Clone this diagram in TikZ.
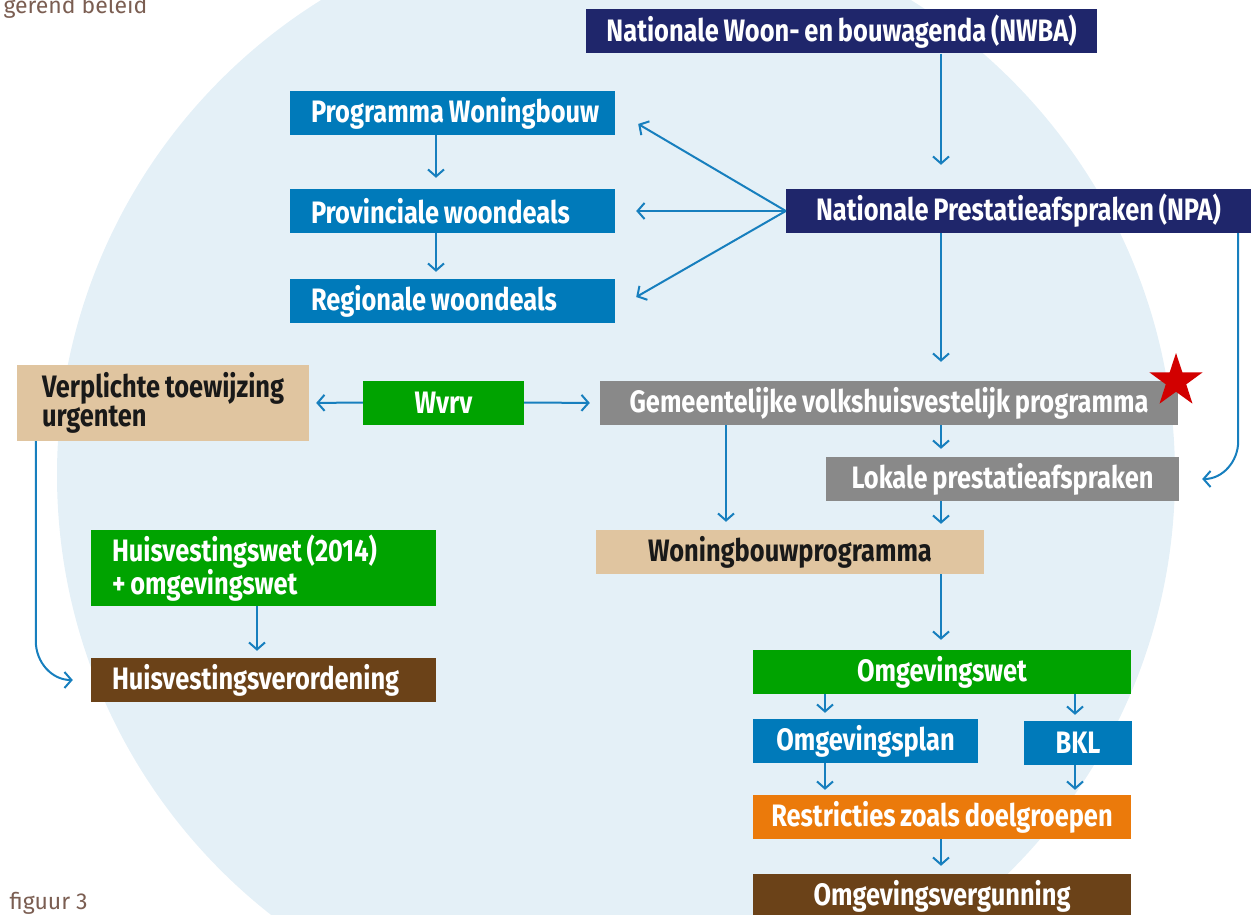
\documentclass[tikz,border=0pt]{standalone}
\usepackage{fontspec}
\usepackage{tikz}
\usetikzlibrary{arrows.meta,shapes.geometric}
\newfontfamily\boxfont[FakeStretch=0.82, WordSpace=0.8]{Fira Sans}
\newfontfamily\capfont{Fira Sans}
\definecolor{navy}{RGB}{31,38,107}
\definecolor{boxblue}{RGB}{0,122,186}
\definecolor{boxgreen}{RGB}{0,163,0}
\definecolor{boxgrey}{RGB}{137,137,137}
\definecolor{boxtan}{RGB}{224,197,160}
\definecolor{boxbrown}{RGB}{107,66,24}
\definecolor{boxorange}{RGB}{235,122,11}
\definecolor{arrowblue}{RGB}{23,127,190}
\definecolor{circleblue}{RGB}{228,240,247}
\definecolor{capbrown}{RGB}{123,94,82}
\definecolor{starred}{RGB}{210,0,0}

\begin{document}
\begin{tikzpicture}[x=1pt, y=-1pt,
    box/.style={rectangle, inner sep=0pt, minimum height=44pt, text=white,
        font=\boxfont\bfseries\fontsize{31}{29}\selectfont},
    leftbox/.style={box, align=flush left, inner xsep=21pt, text width=#1},
    conn/.style={draw=arrowblue, line width=2pt, shorten >=8pt,
        -{Straight Barb[length=7pt, width=16pt, line width=2pt]}},
    caption/.style={text=capbrown, font=\capfont\fontsize{23}{26}\selectfont}]
    \useasboundingbox (0,0) rectangle (1253,915);
    % Background circle
    \begin{scope}
        \clip (0,0) rectangle (1253,915);
        \fill[circleblue] (616,475) circle (559);
    \end{scope}
    \node[caption, anchor=base west] (beleid) at (0,14) {gerend beleid};
    \node[caption, anchor=base west] (figuur) at (6,909) {figuur 3};
    % Boxes
    \node[box, fill=navy, minimum width=511pt] (nwba) at (841.5,31.5) {Nationale Woon- en bouwagenda (NWBA)};
    \node[leftbox=283pt, fill=boxblue] (prog) at (452.5,113) {\mbox{Programma Woningbouw}};
    \node[leftbox=283pt, fill=boxblue] (prov) at (452.5,211) {\mbox{Provinciale woondeals}};
    \node[leftbox=283pt, fill=boxblue] (reg) at (452.5,301) {\mbox{Regionale woondeals}};
    \node[box, fill=navy, minimum width=465pt] (npa) at (1018.5,211) {Nationale Prestatieafspraken (NPA)};
    \node[leftbox=242pt, inner xsep=25pt, fill=boxtan, text=black!90, minimum height=76pt] (verpl) at (163,403) {\mbox{Verplichte toewijzing}\\urgenten};
    \node[box, fill=boxgreen, minimum width=161pt] (wvrv) at (443.5,402.5) {Wvrv};
    \node[box, fill=boxgrey, minimum width=578pt] (gem) at (889,403) {Gemeentelijke volkshuisvestelijk programma};
    \node[box, fill=boxgrey, minimum width=353pt] (lok) at (1002.5,479) {Lokale prestatieafspraken};
    \node[box, fill=boxtan, text=black!90, minimum width=388pt] (wbp) at (790,552) {Woningbouwprogramma};
    \node[leftbox=303pt, fill=boxgreen, minimum height=76pt] (hwet) at (263.5,568) {\mbox{Huisvestingswet (2014)}\\\mbox{+ omgevingswet}};
    \node[leftbox=303pt, fill=boxbrown] (hver) at (263.5,680) {Huisvestingsverordening};
    \node[box, fill=boxgreen, minimum width=378pt] (owet) at (942,672) {Omgevingswet};
    \node[box, fill=boxblue, minimum width=225pt] (oplan) at (865.5,741) {Omgevingsplan};
    \node[box, fill=boxblue, minimum width=108pt] (bkl) at (1078,743) {BKL};
    \node[box, fill=boxorange, minimum width=378pt] (restr) at (942,817) {Restricties zoals doelgroepen};
    \node[box, fill=boxbrown, minimum width=378pt] (overg) at (942,896) {Omgevingsvergunning};
    \node[star, star points=5, star point ratio=2.6, fill=starred, inner sep=0pt, minimum size=56pt] (ster) at (1176,381) {};
    % Connectors
    \coordinate (col) at (941,0);
    \coordinate (colwb) at (436,0);
    \coordinate (colgem) at (726,0);
    \coordinate (colhv) at (257,0);
    \coordinate (colpl) at (825,0);
    \coordinate (colbkl) at (1075,0);
    \draw[conn, shorten >=24pt] (nwba.south -| col) -- (npa.north -| col);
    \draw[conn, shorten >=0pt] (npa.west) -- ([shift={(23,11)}]prog.east);
    \draw[conn, shorten >=21pt] (npa.west) -- (prov.east);
    \draw[conn, shorten >=0pt] (npa.west) -- ([shift={(21,-4)}]reg.east);
    \draw[conn, shorten >=11pt] (prog.south -| colwb) -- (prov.north -| colwb);
    \draw[conn, shorten >=7pt] (prov.south -| colwb) -- (reg.north -| colwb);
    \draw[conn, shorten >=19pt] (npa.south -| col) -- (gem.north -| col);
    \draw[conn, shorten >=0pt] ([xshift=-13pt]npa.south east) -- ++(0,208) to[out=-90, in=0] ([xshift=23pt]lok.east);
    \draw[conn] (gem.south -| col) -- (lok.north -| col);
    \draw[conn] (gem.south -| colgem) -- (wbp.north -| colgem);
    \draw[conn, shorten >=6pt] (lok.south -| col) -- (wbp.north -| col);
    \draw[conn, shorten >=10pt] (wbp.south -| col) -- (owet.north -| col);
    \draw[conn, shorten >=7pt] (wvrv.west) -- (verpl.east);
    \draw[conn, shorten >=10pt] (wvrv.east) -- (gem.west);
    \draw[conn, shorten >=0pt] ([xshift=19pt]verpl.south west) -- ++(0,200) to[out=-90, in=180] ([xshift=-18pt]hver.west);
    \draw[conn, shorten >=7pt] (hwet.south -| colhv) -- (hver.north -| colhv);
    \draw[conn, shorten >=6pt] (owet.south -| colpl) -- (oplan.north -| colpl);
    \draw[conn, shorten >=6pt] (owet.south -| colbkl) -- (bkl.north -| colbkl);
    \draw[conn, shorten >=5pt] (oplan.south -| colpl) -- (restr.north -| colpl);
    \draw[conn, shorten >=5pt] (bkl.south -| colbkl) -- (restr.north -| colbkl);
    \draw[conn] (restr.south -| col) -- (overg.north -| col);
\end{tikzpicture}
\end{document}
